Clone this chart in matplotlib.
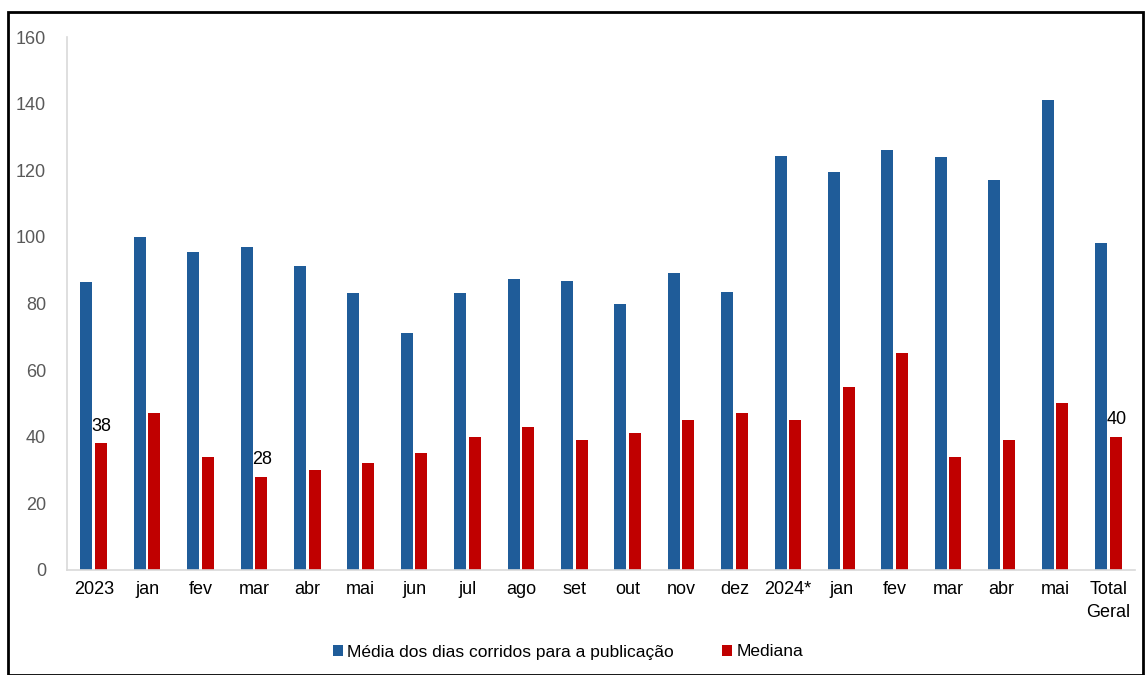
import numpy as np
import matplotlib.pyplot as plt
from matplotlib.patches import Rectangle

plt.rcParams['font.family'] = ['Liberation Sans', 'DejaVu Sans']

categorias = ['2023', 'jan', 'fev', 'mar', 'abr', 'mai', 'jun', 'jul', 'ago', 'set',
              'out', 'nov', 'dez', '2024*', 'jan', 'fev', 'mar', 'abr', 'mai', 'Total\nGeral']
media = [86.5, 100, 95.5, 97, 91.2, 83.2, 71.2, 83.2, 87.4, 86.8,
         80, 89.2, 83.5, 124.2, 119.5, 126.2, 124, 117, 141.2, 98.2]
mediana = [38, 47, 34, 28, 30, 32, 35, 40, 43, 39,
           41, 45, 47, 45, 55, 65, 34, 39, 50, 40]
# medianas com rótulo no gráfico
rotulos = {0: 38, 3: 28, 19: 40}

azul = '#1f5c99'
vermelho = '#c00000'

fig = plt.figure(figsize=(11.45, 6.75), dpi=100)
ax = fig.add_axes([67 / 1145, 1 - 570 / 675, 1068 / 1145, 533 / 675])

x = np.arange(len(categorias))
w = 0.225
ax.bar(x - 0.135, media, width=w, color=azul, label='Média dos dias corridos para a publicação')
ax.bar(x + 0.135, mediana, width=w, color=vermelho, label='Mediana')

for i, v in rotulos.items():
    ax.text(x[i] + 0.15, v + 2.5, str(v), ha='center', va='bottom', fontsize=13, color='black')

ax.set_xlim(-0.5, len(categorias) - 0.5)
ax.set_ylim(0, 160)
ax.set_yticks(range(0, 161, 20))
ax.set_xticks(x)
ax.set_xticklabels(categorias, fontsize=13, color='black', linespacing=1.45)
ax.tick_params(axis='y', labelsize=13, labelcolor='#595959', length=0, pad=15)
ax.tick_params(axis='x', length=0, pad=8)
for s in ['top', 'right']:
    ax.spines[s].set_visible(False)
for s in ['left', 'bottom']:
    ax.spines[s].set_color('#d9d9d9')
    ax.spines[s].set_linewidth(1.2)

fig.legend(loc='center', bbox_to_anchor=(568 / 1145, 1 - 652 / 675), ncol=2, frameon=False,
           fontsize=12.5, handlelength=0.55, handleheight=0.55, handletextpad=0.25, columnspacing=2.8)

# moldura em volta da figura
fig.patches.append(Rectangle((8 / 1145, 0), 1 - 10 / 1145, 1 - 12 / 675, transform=fig.transFigure,
                             fill=False, edgecolor='black', linewidth=2))

fig.savefig('out.png', dpi=100)
